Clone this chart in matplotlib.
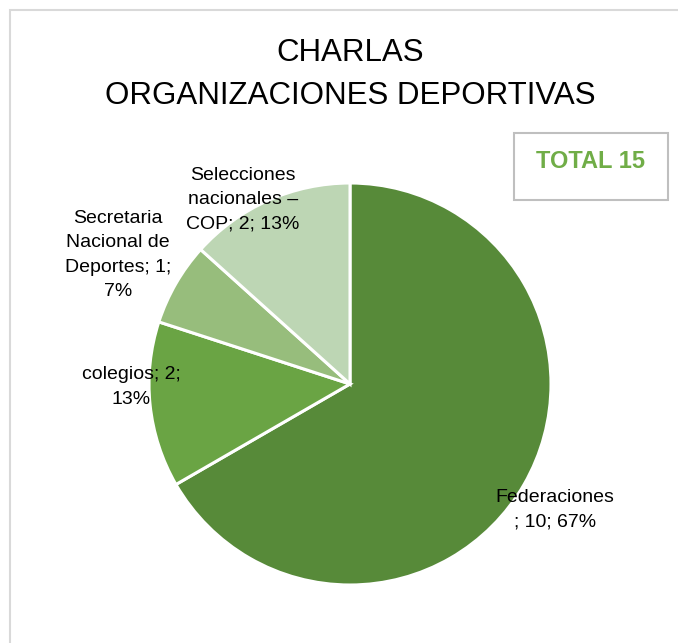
import matplotlib
matplotlib.use("Agg")
import matplotlib.pyplot as plt
from matplotlib.patches import Rectangle
from matplotlib import font_manager

categories = ["Federaciones", "colegios", "Secretaria Nacional de Deportes", "Selecciones nacionales – COP"]
values = [10, 2, 1, 2]
percents = [67, 13, 7, 13]
label_texts = [
    "Federaciones\n; 10; 67%",
    "colegios; 2;\n13%",
    "Secretaria\nNacional de\nDeportes; 1;\n7%",
    "Selecciones\nnacionales –\nCOP; 2; 13%",
]
colors = ["#578A39", "#6AA444", "#97BD7C", "#BDD6B4"]
title_lines = ["CHARLAS", "ORGANIZACIONES DEPORTIVAS"]
total_text = "TOTAL 15"

names = {f.name for f in font_manager.fontManager.ttflist}
fam = ["Liberation Sans Narrow", "Liberation Sans", "DejaVu Sans"]
fam = [f for f in fam if f in names] + ["DejaVu Sans"]
plt.rcParams["font.family"] = fam

W, H = 678, 643
fig = plt.figure(figsize=(W / 100, H / 100), dpi=100)
ax = fig.add_axes([0, 0, 1, 1])
ax.set_xlim(0, W)
ax.set_ylim(0, H)
ax.set_aspect("equal")
ax.axis("off")

# outer chart frame
ax.add_patch(Rectangle((10, -20), W + 40, H - 10 + 20, fill=False, edgecolor="#D9D9D9", linewidth=1.5))

# pie
cx, cy, r = 350, H - 384, 201
ax.pie(values, colors=colors, startangle=90, counterclock=False, center=(cx, cy), radius=r,
       wedgeprops=dict(edgecolor="white", linewidth=2.2), frame=True)
ax.set_xlim(0, W)
ax.set_ylim(0, H)
ax.axis("off")

# title
ax.text(350, H - 53, title_lines[0], ha="center", va="center", fontsize=22.5, color="black")
ax.text(350, H - 96, title_lines[1], ha="center", va="center", fontsize=22.5, color="black")

# total box
ax.add_patch(Rectangle((514, H - 200), 154, 67, fill=False, edgecolor="#BFBFBF", linewidth=1.5))
ax.text(591, H - 162, total_text, ha="center", va="center", fontsize=17, fontweight="bold", color="#70AD47")

# data labels
label_pos = [(555, H - 510), (131, H - 387), (118, H - 255), (243, H - 200)]
for txt, (x, y) in zip(label_texts, label_pos):
    ax.text(x, y, txt, ha="center", va="center", fontsize=14, color="black", linespacing=1.55)

fig.savefig("out.png", dpi=100)
